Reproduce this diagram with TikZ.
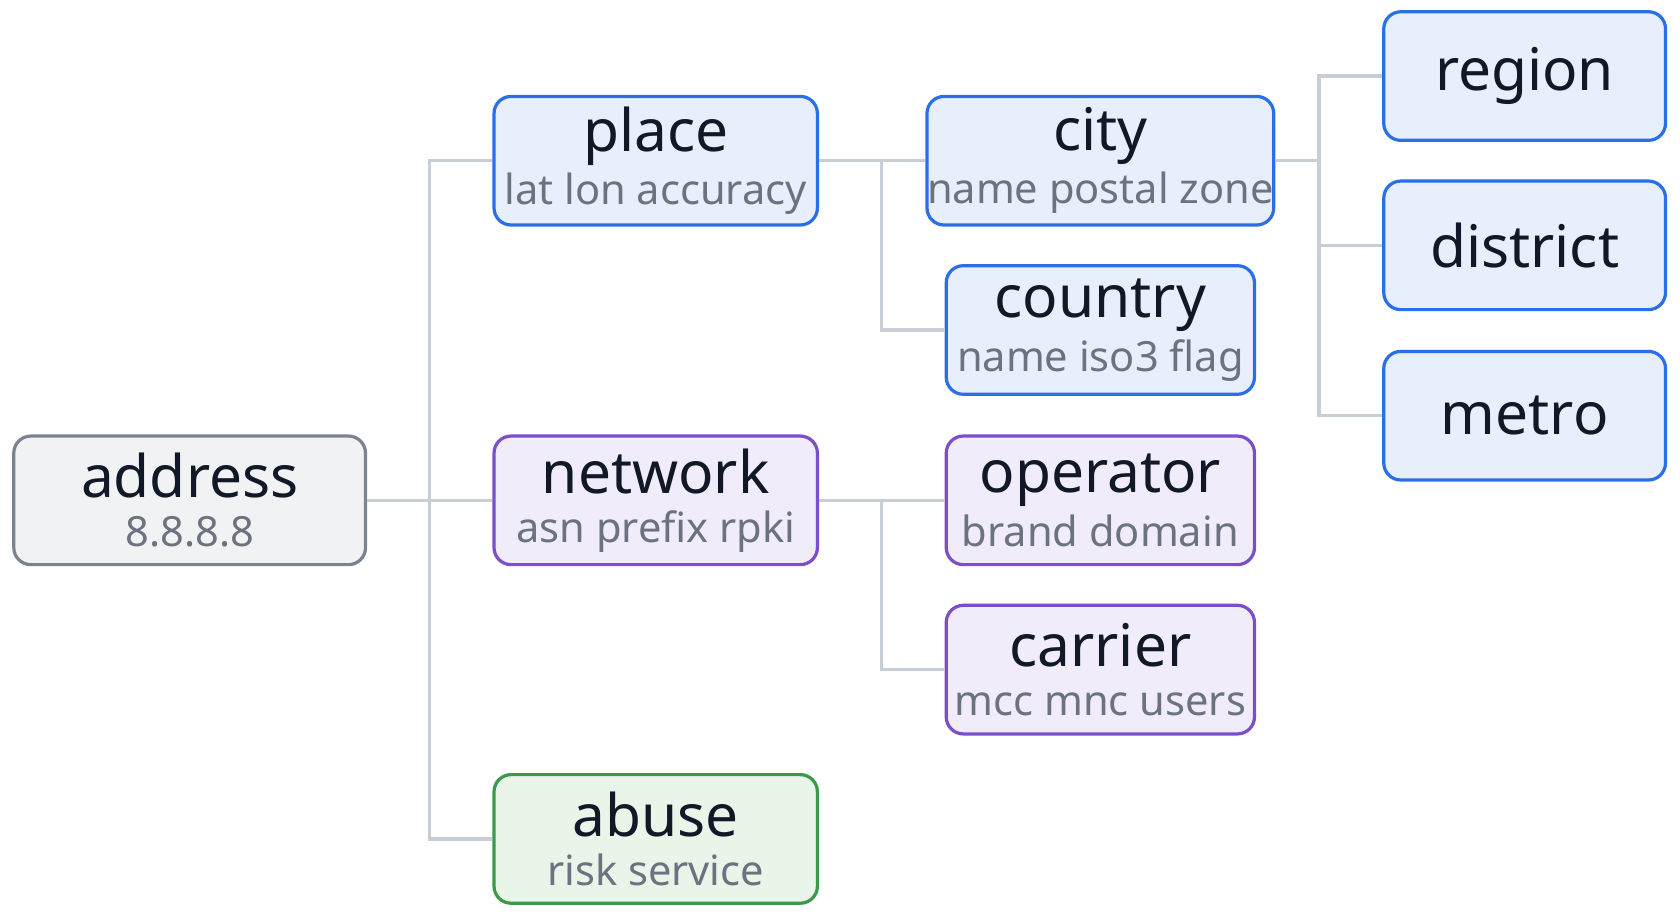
\documentclass[tikz,border=0pt]{standalone}
\usepackage{fontspec}
\setmainfont{Noto Sans}
\definecolor{ink}{HTML}{111827}
\definecolor{mute}{HTML}{6B7280}
\definecolor{wire}{HTML}{C8CED6}
\definecolor{bluel}{HTML}{2A6FE8}\definecolor{bluef}{HTML}{E8EFFC}
\definecolor{purpl}{HTML}{7B4FC8}\definecolor{purpf}{HTML}{F1ECFA}
\definecolor{greenl}{HTML}{3A9A4A}\definecolor{greenf}{HTML}{EAF5EA}
\definecolor{grayl}{HTML}{7A8490}\definecolor{grayf}{HTML}{F1F2F4}
\newcommand{\ttl}[1]{{\fontsize{15.5}{18}\selectfont\bfseries\color{ink}#1}}
\newcommand{\subt}[1]{{\fontsize{11}{14}\selectfont\color{mute}#1}}
\tikzset{
  box/.style={draw, rounded corners=4.5pt, line width=0.85pt, align=center,
    minimum height=34pt, inner sep=0pt},
  gbox/.style={box, draw=grayl, fill=grayf, minimum width=93pt},
  bbox/.style={box, draw=bluel, fill=bluef},
  pbox/.style={box, draw=purpl, fill=purpf},
  ebox/.style={box, draw=greenl, fill=greenf, minimum width=85.5pt},
  link/.style={draw=wire, line width=0.85pt}
}
\begin{document}
\begin{tikzpicture}[x=0.2833pt, y=-0.2833pt]
  \useasboundingbox (0,0) rectangle (1568,856);

  \node[gbox] (address) at (177,467) {\ttl{address}\\[1pt]\subt{8.8.8.8}};

  \node[bbox, minimum width=85.5pt] (place) at (612,150) {\ttl{place}\\[1pt]\subt{lat lon accuracy}};
  \node[pbox, minimum width=85.5pt] (network) at (612,467) {\ttl{network}\\[1pt]\subt{asn prefix rpki}};
  \node[ebox] (abuse) at (612,783) {\ttl{abuse}\\[1pt]\subt{risk service}};

  \node[bbox, minimum width=81.5pt] (city) at (1027,150) {\ttl{city}\\[1pt]\subt{name postal zone}};
  \node[bbox, minimum width=81.5pt] (country) at (1027,308) {\ttl{country}\\[1pt]\subt{name iso3 flag}};
  \node[pbox, minimum width=81.5pt] (operator) at (1027,467) {\ttl{operator}\\[1pt]\subt{brand domain}};
  \node[pbox, minimum width=81.5pt] (carrier) at (1027,625) {\ttl{carrier}\\[1pt]\subt{mcc mnc users}};

  \node[bbox, minimum width=74.5pt] (region) at (1423,71) {\ttl{region}};
  \node[bbox, minimum width=74.5pt] (district) at (1423,229) {\ttl{district}};
  \node[bbox, minimum width=74.5pt] (metro) at (1423,388) {\ttl{metro}};

  % junctions
  \coordinate (j0) at (401,467);
  \coordinate (j1) at (823,150);
  \coordinate (j2) at (823,467);
  \coordinate (j3) at (1231,150);

  \begin{scope}[on background layer/.try]
    \draw[link] (address.east) -- (j0);
    \foreach \n in {place,network,abuse} \draw[link] (j0) |- (\n.west);
    \draw[link] (place.east) -- (j1);
    \foreach \n in {city,country} \draw[link] (j1) |- (\n.west);
    \draw[link] (network.east) -- (j2);
    \foreach \n in {operator,carrier} \draw[link] (j2) |- (\n.west);
    \draw[link] (city.east) -- (j3);
    \foreach \n in {region,district,metro} \draw[link] (j3) |- (\n.west);
  \end{scope}
\end{tikzpicture}
\end{document}
